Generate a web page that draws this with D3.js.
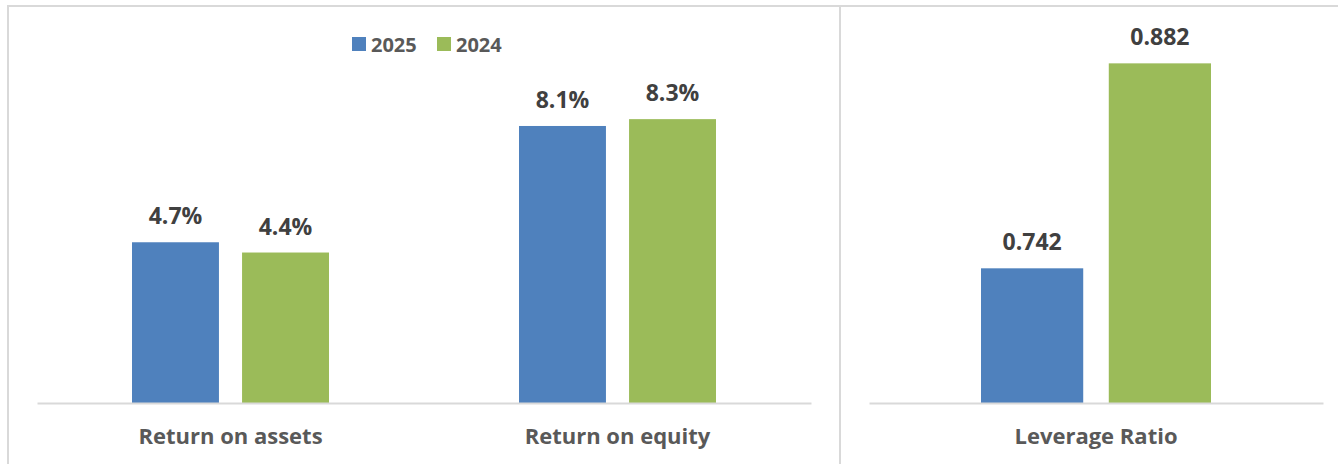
<!DOCTYPE html>
<html>
<head>
<meta charset="utf-8">
<script src="https://cdn.jsdelivr.net/npm/d3@7"></script>
<style>
  body { margin: 0; background: #fff; }
  svg text { font-family: "Open Sans", Lato, sans-serif; font-weight: bold; }
</style>
</head>
<body>
<div id="chart-area"><svg></svg></div>
<script>
const chartSize = { width: 1338, height: 464 };

const series = ["2025", "2024"];
const colors = ["#4f81bd", "#9bbb59"];

const returnCategories = ["Return on assets", "Return on equity"];
const returns2025 = [4.7, 8.1];
const returns2024 = [4.4, 8.3];

const leverageCategories = ["Leverage Ratio"];
const leverage2025 = [0.742];
const leverage2024 = [0.882];

const pctFormat = d => `${d.toFixed(1)}%`;
const ratioFormat = d => d.toFixed(3);

const svg = d3.select("#chart-area svg")
    .attr("width", chartSize.width)
    .attr("height", chartSize.height);

// panel frames
svg.append("rect")
    .attr("x", 8).attr("y", 6)
    .attr("width", 832).attr("height", 470)
    .attr("fill", "none").attr("stroke", "#d9d9d9").attr("stroke-width", 2);
svg.append("rect")
    .attr("x", 840).attr("y", 6)
    .attr("width", 520).attr("height", 470)
    .attr("fill", "none").attr("stroke", "#d9d9d9").attr("stroke-width", 2);

const baseline = 403;

const drawPanel = (cfg) => {
    const g = svg.append("g");
    const rows = cfg.categories.map((c, i) => ({
        name: c,
        values: [cfg.a[i], cfg.b[i]]
    }));

    const x = d3.scaleBand()
        .domain(cfg.categories)
        .range(cfg.xRange);

    const x1 = d3.scaleBand()
        .domain(series)
        .range([0, cfg.groupWidth])
        .paddingInner(cfg.innerPad);

    const y = d3.scaleLinear()
        .domain(cfg.yDomain)
        .range([baseline, cfg.yTop]);

    const groups = g.selectAll(".grp").data(rows).enter()
        .append("g")
        .attr("transform", d => `translate(${x(d.name) + (x.bandwidth() - cfg.groupWidth) / 2},0)`);

    groups.selectAll("rect")
        .data(d => d.values.map((v, i) => ({ key: series[i], v, i })))
        .enter().append("rect")
        .attr("x", d => x1(d.key))
        .attr("width", x1.bandwidth())
        .attr("y", d => y(d.v))
        .attr("height", d => baseline - y(d.v))
        .attr("fill", d => colors[d.i]);

    groups.selectAll(".val")
        .data(d => d.values.map((v, i) => ({ key: series[i], v })))
        .enter().append("text")
        .attr("x", d => x1(d.key) + x1.bandwidth() / 2)
        .attr("y", d => y(d.v) - 18)
        .attr("text-anchor", "middle")
        .attr("font-size", 23)
        .attr("fill", "#404040")
        .text(d => cfg.format(d.v));

    // axis line + category labels
    const axis = g.append("g")
        .attr("transform", `translate(0,${baseline})`)
        .call(d3.axisBottom(x).tickSize(0).tickPadding(25));
    axis.select(".domain").attr("stroke", "#d9d9d9").attr("stroke-width", 2);
    axis.selectAll(".tick text")
        .attr("font-size", 22)
        .attr("fill", "#595959")
        .attr("font-family", "'Open Sans', Lato, sans-serif")
        .attr("font-weight", "bold");
};

drawPanel({
    categories: returnCategories,
    a: returns2025, b: returns2024,
    xRange: [37, 811],
    groupWidth: 197,
    innerPad: 0.21,
    yDomain: [0, 10],
    yTop: 61,
    format: pctFormat
});

drawPanel({
    categories: leverageCategories,
    a: leverage2025, b: leverage2024,
    xRange: [869, 1323],
    groupWidth: 230,
    innerPad: 0.2,
    yDomain: [0.65, 0.9],
    yTop: 37,
    format: ratioFormat
});

// legend
const legend = svg.append("g");
const legendX = [352, 437];
series.forEach((s, i) => {
    legend.append("rect")
        .attr("x", legendX[i]).attr("y", 37)
        .attr("width", 14).attr("height", 14)
        .attr("fill", colors[i]);
    legend.append("text")
        .attr("x", legendX[i] + 19).attr("y", 52)
        .attr("font-size", 20)
        .attr("fill", "#595959")
        .text(s);
});
</script>
</body>
</html>
